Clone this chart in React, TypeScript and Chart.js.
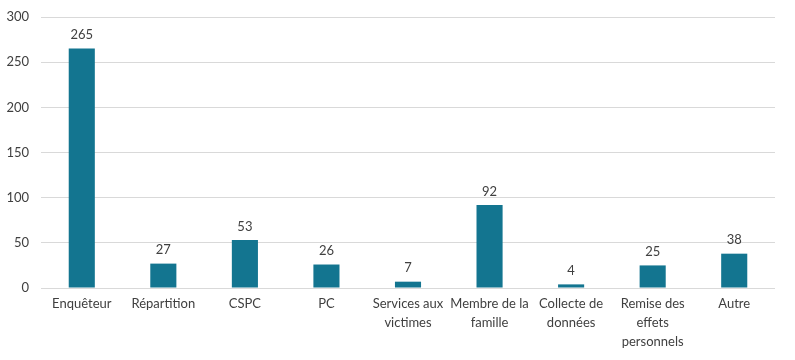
import React, { useEffect, useRef } from "react";
import { Chart, registerables } from "chart.js";

Chart.register(...registerables);

const categories: string[][] = [
  ["Enquêteur"],
  ["Répartition"],
  ["CSPC"],
  ["PC"],
  ["Services aux", "victimes"],
  ["Membre de la", "famille"],
  ["Collecte de", "données"],
  ["Remise des", "effets", "personnels"],
  ["Autre"],
];
const values: number[] = [265, 27, 53, 26, 7, 92, 4, 25, 38];
const yTicks: number[] = [0, 50, 100, 150, 200, 250, 300];

const FONT = "Lato, 'Open Sans', sans-serif";
const BAR_COLOR = "#137590";
const TEXT_COLOR = "#404040";

const valueLabels = {
  id: "valueLabels",
  afterDatasetsDraw(chart: any) {
    const ctx = chart.ctx;
    const meta = chart.getDatasetMeta(0);
    ctx.save();
    ctx.font = `13px ${FONT}`;
    ctx.fillStyle = TEXT_COLOR;
    ctx.textAlign = "center";
    ctx.textBaseline = "bottom";
    meta.data.forEach((el: any, i: number) => {
      ctx.fillText(String(values[i]), el.x, el.y - 7);
    });
    ctx.restore();
  },
};

export default function App() {
  const ref = useRef<HTMLCanvasElement>(null);
  useEffect(() => {
    document.body.style.margin = "0";
    const chart = new Chart(ref.current!, {
      type: "bar",
      data: {
        labels: categories,
        datasets: [
          {
            data: values,
            backgroundColor: BAR_COLOR,
            barPercentage: 0.32,
            categoryPercentage: 1,
          },
        ],
      },
      options: {
        animation: false,
        responsive: false,
        maintainAspectRatio: false,
        layout: { padding: { top: 0, right: 20, left: 0, bottom: 0 } },
        plugins: { legend: { display: false }, tooltip: { enabled: false } },
        scales: {
          x: {
            grid: { display: false, drawTicks: false },
            border: { display: false },
            ticks: {
              color: TEXT_COLOR,
              font: { family: FONT, size: 13, lineHeight: 1.46 },
              padding: 6,
              maxRotation: 0,
              autoSkip: false,
            },
            afterFit(scale: any) {
              scale.height = 72;
            },
          },
          y: {
            min: 0,
            max: 300,
            afterBuildTicks(scale: any) {
              scale.ticks = yTicks.map((v) => ({ value: v }));
            },
            grid: { color: "#d9d9d9", drawTicks: false, lineWidth: 1 },
            border: { display: false },
            ticks: {
              color: TEXT_COLOR,
              font: { family: FONT, size: 13 },
              padding: 12,
            },
            afterFit(scale: any) {
              scale.width = 41;
              scale.paddingTop = 17;
            },
          },
        },
      },
      plugins: [valueLabels],
    });
    return () => chart.destroy();
  }, []);
  return <canvas ref={ref} width={795} height={360} style={{ display: "block" }} />;
}
